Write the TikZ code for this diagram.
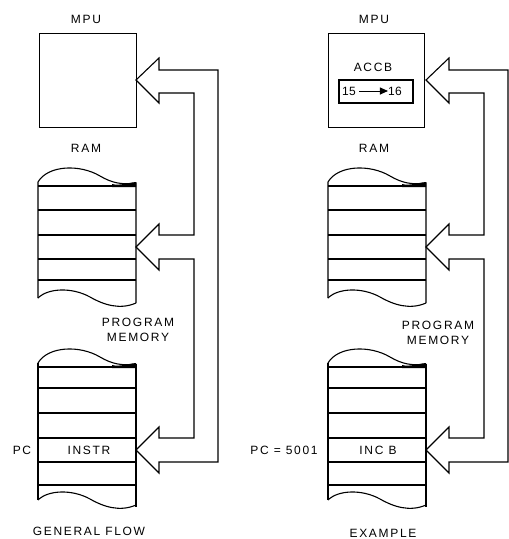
\documentclass[tikz,border=0pt]{standalone}
\usepackage{fontspec}
\usetikzlibrary{arrows.meta}
\newfontfamily\lblfont{Liberation Sans}[LetterSpace=14]
\newfontfamily\numfont{Liberation Sans}[LetterSpace=3]
\tikzset{
  lbl/.style={font=\lblfont\fontsize{12}{14}\selectfont, inner sep=0pt},
  nums/.style={font=\numfont\fontsize{12}{14}\selectfont, inner sep=0pt},
  ln/.style={line width=1.1pt},
  boxnode/.style={draw, line width=1.1pt, inner sep=0pt, anchor=north west},
  regbox/.style={draw, line width=1.8pt, inner sep=0pt, anchor=north west},
  bus/.style={line width=1.1pt, line join=miter}
}
\newcommand\topwave{%
  \draw[ln] (38,298) -- (38,182) .. controls (48,165) and (80,164) .. (100,176)
     .. controls (112,183) and (122,185) .. (136,183) -- (136,303);
  \fill (112,184) .. controls (120,186) and (126,183) .. (136,182) -- (136,187) -- (112,187) -- cycle;
}
\newcommand\botwave{%
  \draw[ln] (38,298) .. controls (48,288) and (72,287) .. (90,297)
     .. controls (104,305) and (120,310) .. (136,303);
}
\newcommand\onediagram{%
  % RAM stack
  \topwave
  \foreach \yy in {186,210,235,259,280} \draw[ln] (38,\yy) -- (136,\yy);
  \botwave
  % program memory stack
  \begin{scope}[shift={(0,181)}]
    \draw[ln] (38,182) .. controls (48,165) and (80,164) .. (100,176)
       .. controls (112,183) and (122,185) .. (136,183);
    \fill (112,184) .. controls (120,186) and (126,183) .. (136,182) -- (136,187) -- (112,187) -- cycle;
  \end{scope}
  \draw[ln] (38,363) -- (38,500);
  \draw[ln] (136,364) -- (136,507);
  \foreach \yy in {367,388,413,438,462,485} \draw[ln] (38,\yy) -- (136,\yy);
  \begin{scope}[shift={(0,202)}]\botwave\end{scope}
  % bus arrow
  \draw[bus] (159,70) -- (218,70) -- (218,462) -- (159,462) -- (159,473) -- (136,450)
    -- (159,427) -- (159,438) -- (194,438) -- (194,259) -- (159,259) -- (159,270)
    -- (136,247) -- (159,224) -- (159,235) -- (194,235) -- (194,93) -- (159,93)
    -- (159,103) -- (136,80) -- (159,58) -- cycle;
}
\begin{document}
\begin{tikzpicture}[x=1pt,y=-1pt]
\useasboundingbox (0,0) rectangle (509,539);
% ---------- left: general flow ----------
\node[boxnode, minimum width=97pt, minimum height=94pt] (mpuL) at (39,33) {};
\node[lbl] (mpuLlbl) at (86,19) {MPU};
\node[lbl] (ramLlbl) at (86,148) {RAM};
\node[lbl, align=center] (pmL) at (138,330) {PROGRAM\\[1pt]MEMORY};
\node[lbl] (pcL) at (22,450) {PC};
\node[lbl] (instr) at (89,450) {INSTR};
\node[lbl] (gf) at (89,531) {GENERAL FLOW};
\onediagram
% ---------- right: example ----------
\node[lbl] (mpuRlbl) at (374,19) {MPU};
\node[lbl] (accb) at (373,67) {ACCB};
\node[regbox, minimum width=74pt, minimum height=23pt] (reg) at (338,79) {};
\node[nums] (n15) at (349,91) {15};
\node[nums] (n16) at (395,91) {16};
\draw[line width=1pt, -{Triangle[length=8pt,width=7pt]}] (n15.east) ++(3pt,0) coordinate (aS) (aS) -- (n16.west);
\node[lbl] (ramRlbl) at (374,148) {RAM};
\node[lbl, align=center] (pmR) at (438,333) {PROGRAM\\[1pt]MEMORY};
\node[lbl] (pcR) at (284,450) {PC = 5001};
\node[lbl] (incb) at (378,450) {INC B};
\node[lbl] (ex) at (383,533) {EXAMPLE};
\begin{scope}[xshift=290pt]
  \node[boxnode, minimum width=96pt, minimum height=94pt] (mpuR) at (38,33) {};
  \onediagram
\end{scope}
\end{tikzpicture}
\end{document}
